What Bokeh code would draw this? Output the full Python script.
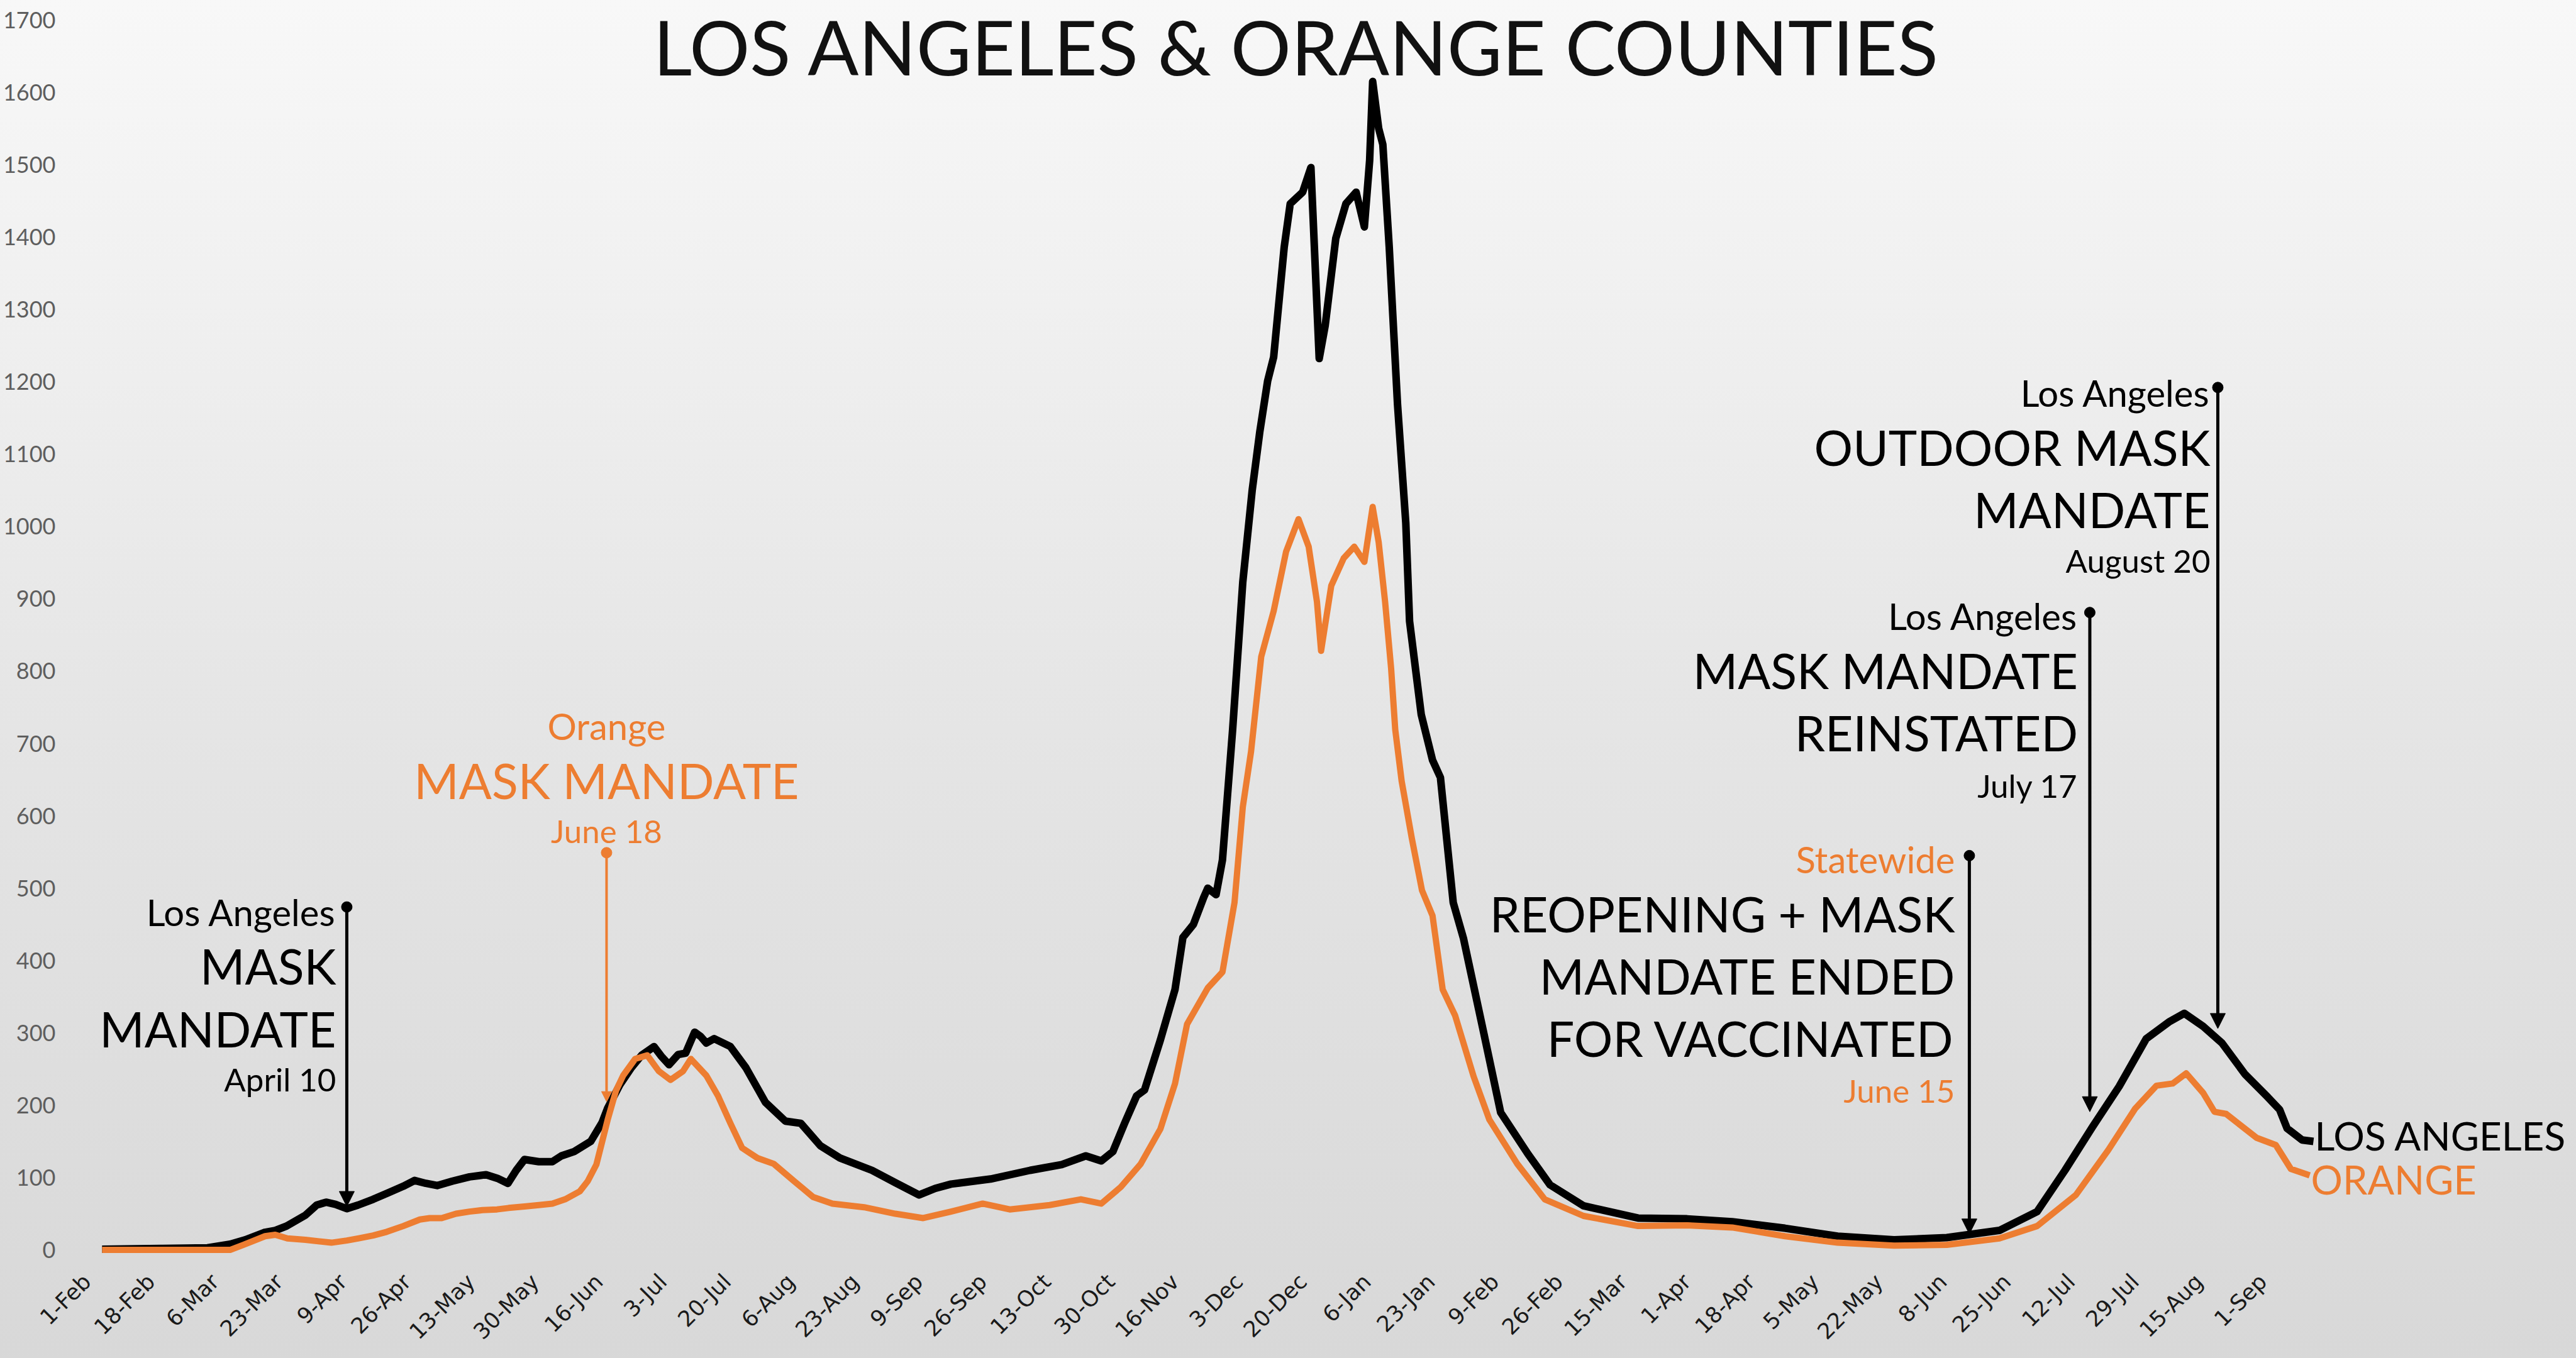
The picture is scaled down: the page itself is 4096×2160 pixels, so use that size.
import math
from bokeh.plotting import figure
from bokeh.models import FixedTicker, Label, Arrow, NormalHead, Range1d
from bokeh.embed import file_html
from bokeh.resources import INLINE

# ---------------- data (x = days since 1-Feb-2020) ----------------
tick_days = list(range(0, 579, 17))
tick_labels = ["1-Feb", "18-Feb", "6-Mar", "23-Mar", "9-Apr", "26-Apr", "13-May", "30-May",
               "16-Jun", "3-Jul", "20-Jul", "6-Aug", "23-Aug", "9-Sep", "26-Sep", "13-Oct",
               "30-Oct", "16-Nov", "3-Dec", "20-Dec", "6-Jan", "23-Jan", "9-Feb", "26-Feb",
               "15-Mar", "1-Apr", "18-Apr", "5-May", "22-May", "8-Jun", "25-Jun", "12-Jul",
               "29-Jul", "15-Aug", "1-Sep"]
y_ticks = list(range(0, 1701, 100))

la_day = [4, 20, 32, 38, 42, 47, 50, 53, 58, 61, 63.5, 66, 69, 72, 76, 80, 84, 87, 90, 93, 97,
          101.6, 106, 109, 111.8, 114, 116.2, 120, 123.6, 126, 129.4, 133.8, 136.8, 138.3, 141.5,
          144.6, 147.3, 150.6, 152.5, 154.6, 157, 159, 161.4, 163, 164.5, 166.6, 170.9, 175,
          180.2, 185.5, 189.6, 194.8, 200, 208.5, 214.7, 221, 225.3, 229.5, 240, 250.5, 258.9,
          265.3, 269.4, 272.5, 275.6, 278.8, 280.9, 285.1, 289, 291.1, 293.9, 296.6, 297.7,
          299.9, 301.6, 304.3, 307, 309.5, 311.5, 313.6, 315.2, 318, 319.6, 322.9, 325.1, 327.3,
          328.9, 331.7, 334.4, 337.1, 339.3, 340.7, 341.5, 343.1, 344.2, 345.9, 348.1, 350.3,
          351.3, 354.4, 357.4, 359.5, 362.9, 365.6, 371, 375.5, 382.7, 388.6, 397.5, 412, 425,
          437, 451, 465, 480, 494, 508, 518, 525.4, 532.7, 539.8, 547, 553, 557.1, 562.1, 567.1,
          573.2, 579.3, 582.4, 584.4, 588.4, 591.4]
la_cases = [1, 2, 3, 8, 14, 24, 27, 33, 48, 62, 66, 63, 57, 62, 70, 79, 88, 96, 92, 89, 95,
            101, 104, 99, 92, 110, 125, 122, 122, 130, 136, 150, 176, 196, 228,
            252, 269, 281, 268, 256, 270, 272, 301, 295, 286, 292, 281, 252,
            204, 178, 175, 144, 127, 110, 93, 76, 85, 91, 98, 110, 118,
            130, 123, 136, 175, 213, 221, 290, 360, 432, 450, 487, 500,
            491, 539, 719, 923, 1050, 1130, 1201, 1234, 1386, 1446, 1462, 1496, 1232,
            1278, 1398, 1446, 1462, 1414, 1506, 1615, 1550, 1528, 1386, 1169, 1005,
            869, 740, 677, 653, 480, 431, 300, 190, 133, 90, 61, 44, 43,
            39, 30, 19, 14, 17, 27, 53, 110, 170, 226, 292, 315, 327, 309, 286,
            243, 211, 194, 168, 152, 150]

oc_day = [4, 38, 41.5, 47.3, 50, 53.2, 58, 64.9, 69, 72.2, 76, 79.6, 84, 88.4, 91, 94.2, 98,
          101.6, 105, 108.9, 112, 116.2, 120, 123.6, 127, 130.9, 133, 135.3, 138.3, 140.5, 142.4,
          145.6, 148.8, 151.9, 155, 158.3, 160.4, 164.5, 167.6, 170.9, 174, 178.1, 182.4, 187.6,
          192.9, 198, 206.4, 214.7, 222.1, 229.5, 237.9, 245.1, 255.7, 264, 269.4, 274.6, 279.9,
          285.1, 289, 292.2, 297.7, 301.6, 304.8, 307, 309.2, 311.9, 315.2, 318.5, 321.8, 324.5,
          326.7, 327.8, 330.5, 333.8, 336.6, 339.3, 341.5, 343.1, 344.8, 346.4, 347.5, 349.2,
          351.9, 354.6, 357.4, 360.1, 363.4, 368.3, 372.5, 379.9, 387.2, 397.5, 412, 425, 437,
          451, 465, 480, 494, 508, 518, 528.3, 536.9, 544, 549.7, 554, 557.6, 562.1, 565.1,
          568.2, 576.3, 581.4, 585.4, 590.4]
oc_cases = [0, 0, 7, 19, 21, 16, 14, 10, 13, 16, 20, 25, 33, 42, 44, 44, 50,
            53, 55, 56, 58, 60, 62, 64, 70, 81, 95, 118, 180, 220, 241,
            264, 269, 247, 235, 247, 264, 241, 213, 175, 141, 127, 119, 96,
            73, 64, 59, 50, 44, 53, 64, 56, 62, 70, 64, 87, 119,
            167, 230, 312, 362, 384, 480, 612, 689, 820, 883, 965, 1010, 972,
            896, 828, 918, 956, 972, 951, 1027, 978, 896, 804, 719, 648,
            569, 497, 462, 360, 324, 240, 180, 119, 70, 47, 33, 34, 31,
            19, 10, 6, 7, 16, 33, 76, 138, 195, 227, 230, 244, 217, 191,
            188, 155, 145, 112, 103]

# events (day index)
event_day = [69, 138, 500, 532, 566]

# ---------------- figure ----------------
W, H = 4096, 2160
ML, MR, MT, MB = 110, 2, 5, 166
PX_PER_DAY = 5.986
PX_PER_CASE = 1.1508
DAY0_X = 137.9             # figure-pixel column of day 0
ZERO_Y = 1987.6            # figure-pixel row of value 0
X0 = -(DAY0_X - ML) / PX_PER_DAY
frame_bottom = H - MB
Y0 = -(frame_bottom - ZERO_Y) / PX_PER_CASE
x_range = Range1d(X0, X0 + (W - ML - MR) / PX_PER_DAY)
y_range = Range1d(Y0, Y0 + (H - MT - MB) / PX_PER_CASE)

p = figure(width=W, height=H, x_range=x_range, y_range=y_range,
           output_backend="svg", toolbar_location=None,
           min_border_left=ML, min_border_right=MR, min_border_top=MT, min_border_bottom=MB)
p.border_fill_color = None
p.background_fill_color = None
p.outline_line_color = None
p.styles = {"background-image": "linear-gradient(to bottom, #f8f8f8 0%, #e6e6e6 50%, #d8d8d8 100%)"}
p.xgrid.grid_line_color = None
p.ygrid.grid_line_color = None

xa = p.xaxis[0]
xa.ticker = FixedTicker(ticks=tick_days)
xa.major_label_overrides = {d: t for d, t in zip(tick_days, tick_labels)}
xa.major_label_orientation = math.pi / 4
xa.axis_line_color = None
xa.major_tick_line_color = None
xa.minor_tick_line_color = None
xa.major_label_text_font = "DejaVu Sans"
xa.major_label_text_font_size = "35px"
xa.major_label_text_color = "#1a1a1a"
xa.major_label_standoff = 32

ya = p.yaxis[0]
ya.ticker = FixedTicker(ticks=y_ticks)
ya.axis_line_color = None
ya.major_tick_line_color = None
ya.minor_tick_line_color = None
ya.major_label_text_font = "Lato"
ya.major_label_text_font_size = "36px"
ya.major_label_text_color = "#5e5e5e"
ya.major_label_standoff = 16

BLACK = "#000000"
ORANGE = "#ED7D31"

p.line(la_day, la_cases, line_color=BLACK, line_width=12, line_join="round")
p.line(oc_day, oc_cases, line_color=ORANGE, line_width=10, line_join="round")

FONT = "Lato"
BIG, SMALL, DATE = "77px", "58px", "51px"

def lab(x, y, text, size, color, align="right", xoff=-17):
    p.add_layout(Label(x=x, y=y, text=text, text_font=FONT, text_font_size=size,
                       text_color=color, text_align=align, text_baseline="middle",
                       x_offset=xoff if align == "right" else 0))

def arrow(x, ytop, ytip, color, width=5, head=24):
    p.add_layout(Arrow(x_start=x, y_start=ytop, x_end=x, y_end=ytip, line_color=color,
                       line_width=width,
                       end=NormalHead(size=head, fill_color=color, line_color=color, line_width=1)))
    p.scatter([x], [ytop], size=17, color=color)

# April 10 - Los Angeles
d = event_day[0]
arrow(d, 474, 60, BLACK)
for y, t, s in [(467, "Los Angeles", SMALL), (393, "MASK", BIG), (306, "MANDATE", BIG),
                (236, "April 10", DATE)]:
    lab(d, y, t, s, BLACK, xoff=-17)

# June 18 - Orange
d = event_day[1]
arrow(d, 549, 205, ORANGE, width=4, head=16)
lab(d, 724, "Orange", SMALL, ORANGE, align="center")
lab(d, 649, "MASK MANDATE", BIG, ORANGE, align="center")
lab(d, 579, "June 18", DATE, ORANGE, align="center")

# June 15 - Statewide
d = event_day[2]
arrow(d, 545, 22, BLACK)
lab(d, 540, "Statewide", SMALL, ORANGE, xoff=-23)
lab(d, 465, "REOPENING + MASK", BIG, BLACK, xoff=-23)
lab(d, 379, "MANDATE ENDED", BIG, BLACK, xoff=-23)
lab(d, 293, "FOR VACCINATED", BIG, BLACK, xoff=-23)
lab(d, 220, "June 15", DATE, ORANGE, xoff=-23)

# July 17 - Los Angeles
d = event_day[3]
arrow(d, 881, 191, BLACK)
for y, t, s in [(876, "Los Angeles", SMALL), (801, "MASK MANDATE", BIG), (715, "REINSTATED", BIG),
                (642, "July 17", DATE)]:
    lab(d, y, t, s, BLACK, xoff=-19)

# August 20 - Los Angeles
d = event_day[4]
arrow(d, 1192, 306, BLACK)
for y, t, s in [(1185, "Los Angeles", SMALL), (1110, "OUTDOOR MASK", BIG), (1024, "MANDATE", BIG),
                (953, "August 20", DATE)]:
    lab(d, y, t, s, BLACK, xoff=-12)

# series end labels
p.add_layout(Label(x=la_day[-1], y=la_cases[-1] + 8, text="LOS ANGELES", text_font=FONT,
                   text_font_size="62px", text_color=BLACK, text_align="left",
                   text_baseline="middle", x_offset=2))
p.add_layout(Label(x=oc_day[-1], y=oc_cases[-1] - 5, text="ORANGE", text_font=FONT,
                   text_font_size="63px", text_color=ORANGE, text_align="left",
                   text_baseline="middle", x_offset=2))

# title
p.add_layout(Label(x=321.4, y=1663, text="LOS ANGELES & ORANGE COUNTIES", text_font=FONT,
                   text_font_size="120px", text_color="#111111", text_align="center",
                   text_baseline="middle"))

open("out.html", "w").write(file_html(p, INLINE))
